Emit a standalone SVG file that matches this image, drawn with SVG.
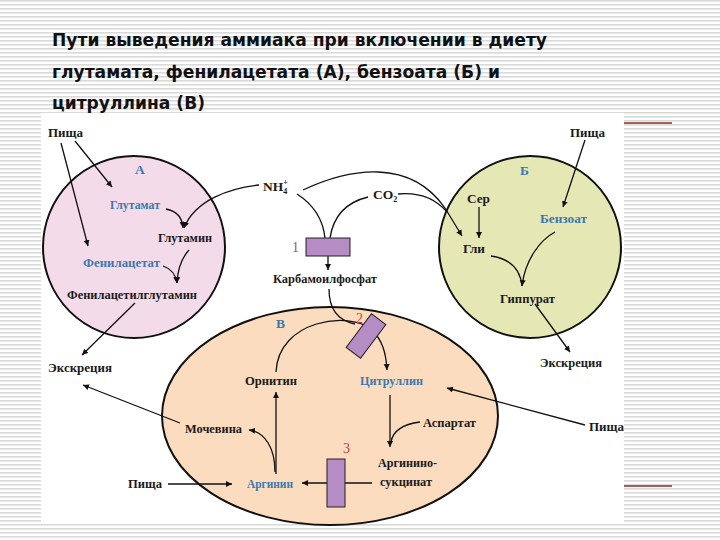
<svg xmlns="http://www.w3.org/2000/svg" width="720" height="540" viewBox="0 0 720 540">
<defs>
<pattern id="stripes" width="4" height="4" patternUnits="userSpaceOnUse">
<rect width="4" height="4" fill="#ffffff"/>
<rect y="0" width="4" height="1.6" fill="#dadada"/>
</pattern>
<marker id="ah" markerWidth="8" markerHeight="8" refX="6" refY="3" orient="auto" markerUnits="userSpaceOnUse">
<path d="M0,0 L6,3 L0,6 Z" fill="#111"/>
</marker>
<style>
.t{font-family:"DejaVu Sans","Liberation Sans",sans-serif;font-weight:bold;font-size:18.5px;fill:#111}
.l{font-family:"Liberation Serif","DejaVu Serif",serif;font-weight:bold;font-size:13.5px;fill:#1a1a1a}
.b{fill:#3d78ad}
.n{font-family:"Liberation Serif",serif;font-size:14px;fill:#a0506a}
.r{fill:#c4443a}
.c{fill:none;stroke:#111;stroke-width:1.3;marker-end:url(#ah)}
.cn{fill:none;stroke:#111;stroke-width:1.3}
.zone{stroke:#111;stroke-width:2}
.enz{fill:#b58cc4;stroke:#222;stroke-width:1}
</style>
</defs>
<rect width="720" height="540" fill="url(#stripes)"/>
<rect x="41" y="113" width="583" height="410" fill="#ffffff"/>
<line x1="624" y1="117" x2="672" y2="117" stroke="#cfe8dc" stroke-width="1"/>
<line x1="624" y1="123" x2="672" y2="123" stroke="#8e2a2a" stroke-width="1.5"/>
<line x1="624" y1="486" x2="672" y2="486" stroke="#8e2a2a" stroke-width="1.5"/>
<g id="title">
<text class="t" x="52" y="46" textLength="495" lengthAdjust="spacingAndGlyphs">Пути выведения аммиака при включении в диету</text>
<text class="t" x="52" y="78" textLength="448" lengthAdjust="spacingAndGlyphs">глутамата, фенилацетата (А), бензоата (Б) и</text>
<text class="t" x="52" y="109" textLength="153" lengthAdjust="spacingAndGlyphs">цитруллина (В)</text>
</g>
<g id="zoneA"><circle class="zone" cx="134" cy="247" r="91" fill="#f4dbe9"/></g>
<g id="zoneB"><circle class="zone" cx="530" cy="247" r="91" fill="#e5e8b4"/></g>
<g id="zoneV"><ellipse class="zone" cx="330" cy="416" rx="168" ry="109" fill="#fbdcbf"/></g>
<g id="connectors">
<path class="c" d="M75,141 L112,187"/>
<path class="c" d="M61,143 L88,246"/>
<path class="c" d="M166,209 Q182,212 183,228"/>
<path class="c" d="M259,185 C230,188 195,200 184,228"/>
<path class="c" d="M189,250 Q178,262 177,283"/>
<path class="c" d="M163,266 Q175,270 177,283"/>
<path class="c" d="M135,303 L82,355"/>
<path class="cn" d="M297,194 Q322,210 325,238"/>
<path class="cn" d="M368,197 Q335,205 330,238"/>
<path class="c" d="M303,190 C350,168 410,158 445,208 L462,236"/>
<path class="cn" d="M398,194 C420,192 435,198 447,212"/>
<path class="c" d="M328,256 L328,270"/>
<path class="cn" d="M329,289 C329,305 335,320 355,324"/>
<path class="c" d="M276,372 C278,320 350,310 372,330 C382,340 386,352 387,370"/>
<path class="c" d="M390,395 L390,447"/>
<path class="cn" d="M420,422 C405,424 393,430 391,442"/>
<path class="c" d="M372,483 L302,483"/>
<path class="c" d="M276,474 L276,392"/>
<path class="c" d="M275,472 C275,448 265,432 249,430"/>
<path class="c" d="M180,423 L83,385"/>
<path class="c" d="M168,484 L232,484"/>
<path class="c" d="M585,425 L447,388"/>
<path class="c" d="M585,140 L563,207"/>
<path class="c" d="M479,207 L479,238"/>
<path class="cn" d="M491,256 C505,258 520,265 522,286"/>
<path class="c" d="M555,232 C540,240 525,260 522,286"/>
<path class="c" d="M535,304 L570,352"/>
</g>
<g id="enzyme1"><rect class="enz" x="306" y="238" width="44" height="18"/><text class="n" x="292" y="252">1</text></g>
<g id="enzyme2"><rect class="enz" x="345" y="327" width="42" height="18" transform="rotate(-53 366 336)"/><text class="n r" x="356" y="323">2</text></g>
<g id="enzyme3"><rect class="enz" x="327" y="459" width="18" height="48"/><text class="n r" x="343" y="453">3</text></g>
<g id="lblA"><text class="l b" x="135" y="174">А</text></g>
<g id="food1"><text class="l" x="48" y="137" textLength="35" lengthAdjust="spacingAndGlyphs">Пища</text></g>
<g id="glutamate"><text class="l b" x="110" y="209" textLength="50" lengthAdjust="spacingAndGlyphs">Глутамат</text></g>
<g id="glutamine"><text class="l" x="158" y="242" textLength="54" lengthAdjust="spacingAndGlyphs">Глутамин</text></g>
<g id="phenylacetate"><text class="l b" x="83" y="267" textLength="77" lengthAdjust="spacingAndGlyphs">Фенилацетат</text></g>
<g id="pag"><text class="l" x="67" y="299" textLength="130" lengthAdjust="spacingAndGlyphs">Фенилацетилглутамин</text></g>
<g id="excr1"><text class="l" x="48" y="372" textLength="64" lengthAdjust="spacingAndGlyphs">Экскреция</text></g>
<g id="nh4"><text class="l" x="263" y="191">NH<tspan font-size="8" dy="3">4</tspan><tspan font-size="8" dx="-4" dy="-9">+</tspan></text></g>
<g id="co2"><text class="l" x="373" y="199">CO<tspan font-size="8" dy="3">2</tspan></text></g>
<g id="carbamoyl"><text class="l" x="273" y="283" textLength="104" lengthAdjust="spacingAndGlyphs">Карбамоилфосфат</text></g>
<g id="lblV"><text class="l b" x="276" y="328">В</text></g>
<g id="ornithine"><text class="l" x="245" y="385" textLength="52" lengthAdjust="spacingAndGlyphs">Орнитин</text></g>
<g id="citrulline"><text class="l b" x="360" y="385" textLength="63" lengthAdjust="spacingAndGlyphs">Цитруллин</text></g>
<g id="aspartate"><text class="l" x="423" y="427" textLength="53" lengthAdjust="spacingAndGlyphs">Аспартат</text></g>
<g id="argsucc"><text class="l" x="378" y="467" textLength="59" lengthAdjust="spacingAndGlyphs">Аргинино-</text><text class="l" x="380" y="486" textLength="52" lengthAdjust="spacingAndGlyphs">сукцинат</text></g>
<g id="arginine"><text class="l b" x="247" y="488" textLength="46" lengthAdjust="spacingAndGlyphs">Аргинин</text></g>
<g id="urea"><text class="l" x="185" y="433" textLength="57" lengthAdjust="spacingAndGlyphs">Мочевина</text></g>
<g id="food3"><text class="l" x="128" y="488" textLength="34" lengthAdjust="spacingAndGlyphs">Пища</text></g>
<g id="food4"><text class="l" x="589" y="431" textLength="35" lengthAdjust="spacingAndGlyphs">Пища</text></g>
<g id="lblB"><text class="l b" x="520" y="175">Б</text></g>
<g id="food2"><text class="l" x="570" y="137" textLength="35" lengthAdjust="spacingAndGlyphs">Пища</text></g>
<g id="ser"><text class="l" x="467" y="203" textLength="23" lengthAdjust="spacingAndGlyphs">Сер</text></g>
<g id="gly"><text class="l" x="463" y="253" textLength="22" lengthAdjust="spacingAndGlyphs">Гли</text></g>
<g id="benzoate"><text class="l b" x="540" y="223" textLength="47" lengthAdjust="spacingAndGlyphs">Бензоат</text></g>
<g id="hippurate"><text class="l" x="500" y="303" textLength="55" lengthAdjust="spacingAndGlyphs">Гиппурат</text></g>
<g id="excr2"><text class="l" x="540" y="367" textLength="62" lengthAdjust="spacingAndGlyphs">Экскреция</text></g>
</svg>
